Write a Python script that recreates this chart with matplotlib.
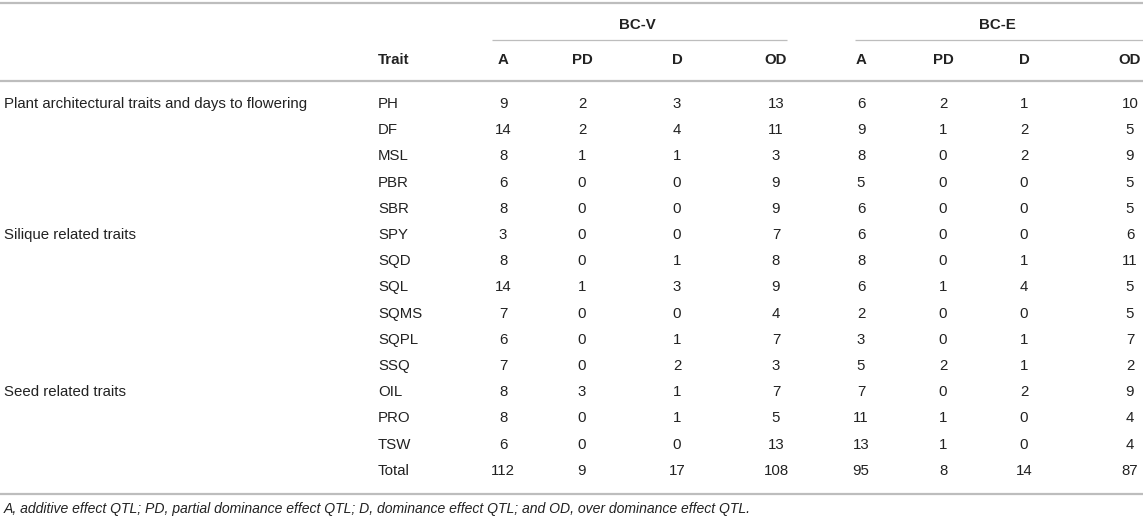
import matplotlib
matplotlib.use("Agg")
import matplotlib.pyplot as plt

groups = ["Plant architectural traits and days to flowering", "Silique related traits", "Seed related traits"]
group_start = [0, 5, 11]
traits = ["PH", "DF", "MSL", "PBR", "SBR", "SPY", "SQD", "SQL", "SQMS", "SQPL", "SSQ", "OIL", "PRO", "TSW", "Total"]
sub_cols = ["A", "PD", "D", "OD"]
populations = ["BC-V", "BC-E"]
bcv_A  = [9, 14, 8, 6, 8, 3, 8, 14, 7, 6, 7, 8, 8, 6, 112]
bcv_PD = [2, 2, 1, 0, 0, 0, 0, 1, 0, 0, 0, 3, 0, 0, 9]
bcv_D  = [3, 4, 1, 0, 0, 0, 1, 3, 0, 1, 2, 1, 1, 0, 17]
bcv_OD = [13, 11, 3, 9, 9, 7, 8, 9, 4, 7, 3, 7, 5, 13, 108]
bce_A  = [6, 9, 8, 5, 6, 6, 8, 6, 2, 3, 5, 7, 11, 13, 95]
bce_PD = [2, 1, 0, 0, 0, 0, 0, 1, 0, 0, 2, 0, 1, 1, 8]
bce_D  = [1, 2, 2, 0, 0, 0, 1, 4, 0, 1, 1, 2, 0, 0, 14]
bce_OD = [10, 5, 9, 5, 5, 6, 11, 5, 5, 7, 2, 9, 4, 4, 87]
footnote = "A, additive effect QTL; PD, partial dominance effect QTL; D, dominance effect QTL; and OD, over dominance effect QTL."

plt.rcParams['font.family'] = ['Liberation Sans', 'DejaVu Sans']
W, H = 1143, 521
fig = plt.figure(figsize=(W / 100, H / 100), dpi=100)
ax = fig.add_axes([0, 0, 1, 1])
ax.set_xlim(0, W)
ax.set_ylim(H, 0)
ax.axis("off")

txt = "#222222"
line_c = "#bdbdbd"
fs = 10.8

# column centres
col_x = [503, 582, 677, 776, 861, 943, 1024, 1130]
trait_x = 378
group_x = 4
y_top_line = 3
y_pop = 25
y_sub_line = 39.5
y_head = 60
y_head_line = 81
y_row0 = 104
row_h = 26.2
y_bottom_line = 493.5
y_foot = 508.5

ax.plot([0, W], [y_top_line, y_top_line], color=line_c, lw=1.6, solid_capstyle="butt")
ax.plot([0, W], [y_head_line, y_head_line], color=line_c, lw=1.6, solid_capstyle="butt")
ax.plot([0, W], [y_bottom_line, y_bottom_line], color=line_c, lw=1.6, solid_capstyle="butt")

pop_spans = [(492, 787), (855, W)]
for name, (x0, x1) in zip(populations, pop_spans):
    ax.plot([x0, x1], [y_sub_line, y_sub_line], color=line_c, lw=0.9, solid_capstyle="butt")
    ax.text((x0 + x1) / 2 - 2, y_pop, name, ha="center", va="center", fontsize=fs, fontweight="bold", color=txt)

ax.text(trait_x, y_head, "Trait", ha="left", va="center", fontsize=fs, fontweight="bold", color=txt)
for i, x in enumerate(col_x):
    ax.text(x, y_head, sub_cols[i % 4], ha="center", va="center", fontsize=fs, fontweight="bold", color=txt)

cols = [bcv_A, bcv_PD, bcv_D, bcv_OD, bce_A, bce_PD, bce_D, bce_OD]
for r, t in enumerate(traits):
    y = y_row0 + r * row_h
    ax.text(trait_x, y, t, ha="left", va="center", fontsize=fs, color=txt)
    for c, x in zip(cols, col_x):
        ax.text(x, y, str(c[r]), ha="center", va="center", fontsize=fs, color=txt)

for g, s in zip(groups, group_start):
    ax.text(group_x, y_row0 + s * row_h, g, ha="left", va="center", fontsize=fs, color=txt)

ax.text(group_x, y_foot, footnote, ha="left", va="center", fontsize=10.1, style="italic", color=txt)

fig.savefig("out.png", dpi=100)
